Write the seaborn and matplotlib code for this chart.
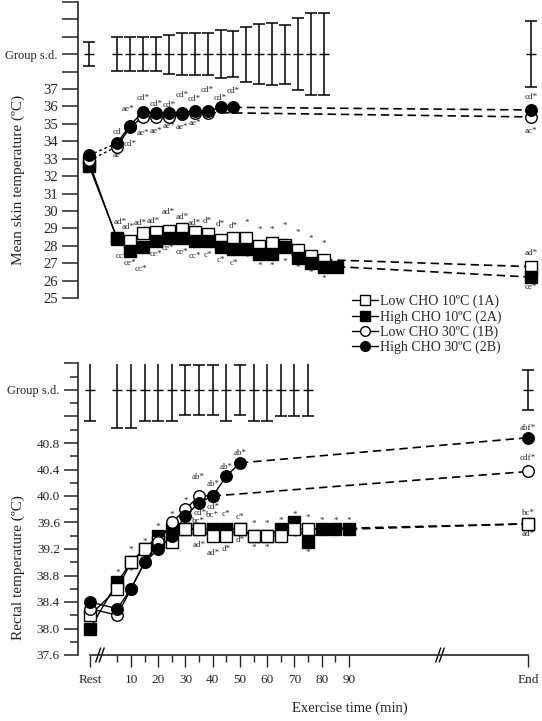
import pandas as pd
import matplotlib
matplotlib.use("Agg")
import matplotlib.pyplot as plt
import matplotlib.transforms as mtransforms
from matplotlib.lines import Line2D
import seaborn as sns

# ---- datos ----
exercise_time = [5, 10, 15, 20, 25, 30, 35, 40, 45, 50, 55, 60, 65, 70, 75, 80, 85, 90]
groups = ["1A", "2A", "1B", "2B"]
group_labels = ["Low CHO 10ºC (1A)", "High CHO 10ºC (2A)",
                "Low CHO 30ºC (1B)", "High CHO 30ºC (2B)"]

# piel (ºC), desde 5 min
skin_1a = [28.4, 28.3, 28.75, 28.8, 28.85, 28.95, 28.8, 28.7, 28.35, 28.45, 28.45,
           28.0, 28.15, 28.05, 27.75, 27.4, 27.2]
skin_2a = [28.45, 27.7, 27.95, 28.3, 28.45, 28.45, 28.25, 28.25, 27.95, 27.8, 27.8,
           27.5, 27.5, 27.95, 27.3, 27.0, 26.8, 26.8]
skin_1b = [33.7, 34.8, 35.4, 35.4, 35.4, 35.55, 35.6, 35.65]
skin_2b = [33.9, 34.9, 35.7, 35.6, 35.65, 35.65, 35.75, 35.75, 35.95, 35.95]
skin_rest = [32.8, 32.6, 32.9, 33.2]
skin_end = [26.8, 26.2, 35.4, 35.8]
skin_sd = [0.98, 0.98, 0.98, 0.98, 1.12, 1.2, 1.2, 1.2, 1.38, 1.32, 1.58, 1.72,
           1.78, 1.69, 2.07, 2.35, 2.35]
skin_sd_rest = 0.69
skin_sd_end = 1.9

# rectal (ºC), desde 5 min
rectal_1a = [38.6, 39.0, 39.2, 39.3, 39.3, 39.5, 39.5, 39.4, 39.4, 39.5, 39.4, 39.4,
             39.4, 39.5, 39.5]
rectal_2a = [38.7, 39.0, 39.2, 39.4, 39.5, 39.5, 39.5, 39.5, 39.5, 39.5, 39.4, 39.4,
             39.5, 39.6, 39.3, 39.5, 39.5, 39.5]
rectal_1b = [38.2, 38.6, 39.0, 39.3, 39.6, 39.8, 40.0, 40.0]
rectal_2b = [38.3, 38.6, 39.0, 39.2, 39.4, 39.7, 39.9, 40.0, 40.3, 40.5]
rectal_rest = [38.2, 38.0, 38.3, 38.4]
rectal_end = [39.58, 39.58, 40.37, 40.88]
rectal_sd = [0.57, 0.57, 0.47, 0.47, 0.47, 0.37, 0.37, 0.37, 0.47, 0.37, 0.47, 0.47,
             0.4, 0.4, 0.4]
rectal_sd_rest = 0.47
rectal_sd_end = 0.3

# anotaciones: (grupo, tiempo, texto, dx px, dy px)
skin_notes = [
    ("2B", 5, "cd", 0, 11), ("1B", 5, "ae", 0, -8),
    ("2B", 10, "ae*", -2, 17), ("1B", 10, "cd*", 0, -17),
    ("2B", 15, "cd*", 0, 14), ("2B", 20, "cd*", 0, 9), ("2B", 25, "cd*", 0, 8),
    ("2B", 30, "cd*", 0, 18), ("2B", 35, "cd*", 0, 12), ("2B", 40, "cd*", 0, 21),
    ("2B", 45, "cd*", 0, 9), ("2B", 50, "cd*", 0, 16),
    ("1B", 15, "ae*", 0, -16), ("1B", 20, "ae*", 0, -14), ("1B", 25, "ae*", 0, -9),
    ("1B", 30, "ae*", 0, -13), ("1B", 35, "ae*", 0, -10),
    ("2B", "End", "cd*", 0, 13), ("1B", "End", "ac*", 0, -14),
    ("1A", 5, "ad*", 3, 17), ("1A", 10, "ad*", -2, 14), ("1A", 15, "ad*", -3, 10),
    ("1A", 20, "ad*", -3, 11), ("1A", 25, "ad*", -1, 19), ("1A", 30, "ad*", 0, 12),
    ("1A", 35, "ad*", 0, 9), ("1A", 40, "d*", 0, 13), ("1A", 45, "d*", 0, 16),
    ("1A", 50, "d*", 0, 12), ("1A", 55, "*", 0, 15), ("1A", 60, "*", 0, 16),
    ("1A", 65, "*", 0, 13), ("1A", 70, "*", 0, 19), ("1A", 75, "*", 0, 17),
    ("1A", 80, "*", 0, 17), ("1A", 85, "*", 0, 16),
    ("2A", 5, "cc*", 5, -18), ("2A", 10, "ce*", 0, -12), ("2A", 15, "cc*", -2, -22),
    ("2A", 20, "ce*", 0, -13), ("2A", 25, "ce*", -1, -10), ("2A", 30, "ce*", 0, -14),
    ("2A", 35, "cc*", 0, -15), ("2A", 40, "c*", 0, -14), ("2A", 45, "c*", 0, -13),
    ("2A", 50, "c*", 0, -14), ("2A", 55, "*", 0, -9), ("2A", 60, "*", 0, -11),
    ("2A", 65, "*", 0, -11), ("2A", 70, "*", 0, -15), ("2A", 75, "*", 0, -10),
    ("2A", 80, "*", 0, -10), ("2A", 85, "*", 0, -12), ("2A", 90, "*", 0, -7),
    ("1A", "End", "ad*", 0, 14), ("2A", "End", "ce*", 0, -10),
]
rectal_notes = [
    ("1B", 35, "ab*", -1, 19), ("2B", 40, "ab*", 0, 12), ("2B", 45, "ab*", 0, 9),
    ("2B", 50, "ab*", 0, 10), ("2B", 35, "cd*", 1, -10), ("2B", 40, "cd*", 0, -11),
    ("2A", 35, "bc*", -1, 8), ("2A", 40, "bc*", 0, 14), ("2A", 45, "c*", 0, 15),
    ("2A", 50, "c*", 0, 12),
    ("1A", 35, "ad*", 0, -16), ("1A", 40, "ad*", 0, -17), ("1A", 45, "d*", 0, -13),
    ("1A", 50, "d*", 0, -11),
    ("2A", 55, "*", 0, 12), ("2A", 60, "*", 0, 12), ("2A", 65, "*", 0, 8),
    ("2A", 70, "*", 0, 8), ("1A", 75, "*", 0, 11), ("2A", 80, "*", 0, 8),
    ("2A", 85, "*", 0, 8), ("2A", 90, "*", 0, 8),
    ("1A", 55, "*", 0, -12), ("1A", 60, "*", 0, -12), ("1A", 65, "*", 0, -8),
    ("1A", 70, "*", 0, -9), ("2A", 75, "*", 0, -11),
    ("2A", 5, "*", 0, 9), ("1A", 5, "*", 0, -7), ("1A", 10, "*", 0, 12),
    ("1A", 10, "*", 0, -10), ("2B", 10, "*", 1, -8), ("1A", 15, "*", 0, 7),
    ("2B", 15, "*", 0, -8), ("2A", 20, "*", 0, 9), ("2B", 20, "*", 0, -8),
    ("2B", 25, "*", -6, -14), ("2B", 25, "*", 1, -14), ("1B", 25, "*", 0, 8),
    ("1B", 30, "*", 0, 8), ("1A", 30, "*", 0, -7),
    ("2B", "End", "abf*", 0, 10), ("1B", "End", "cdf*", 0, 13),
    ("1A", "End", "bc*", 0, 11), ("1A", "End", "ad*", 0, -10),
]

marker_styles = {"1A": ("s", "white"), "2A": ("s", "black"),
                 "1B": ("o", "white"), "2B": ("o", "black")}
MS = 8.3

# posiciones de Rest / End en cada panel (eje roto)
TOP_REST, TOP_END = -5.8, 165.0
BOT_REST, BOT_END = -5.05, 155.7


def draw_panel(ax, values, rest_vals, end_vals, rest_x, end_x, zorders, rest_ls):
    for i, g in enumerate(groups):
        vals = values[g]
        t = exercise_time[:len(vals)]
        df = pd.DataFrame({"time": t, "value": vals})
        marker, face = marker_styles[g]
        z = zorders[g]
        sns.lineplot(data=df, x="time", y="value", ax=ax, color="black", linewidth=1.0,
                     marker=marker, markersize=MS, markerfacecolor=face,
                     markeredgecolor="black", markeredgewidth=1.0, zorder=z,
                     legend=False)
        ax.plot([rest_x, t[0]], [rest_vals[i], vals[0]], color="black", lw=1.0,
                ls=rest_ls[g], zorder=z - 0.5)
        ax.plot([t[-1], end_x], [vals[-1], end_vals[i]], color="black", lw=1.2,
                ls=(0, (5, 3)), zorder=z - 0.5)
        ax.plot([rest_x, end_x], [rest_vals[i], end_vals[i]], ls="none", marker=marker,
                ms=MS, mfc=face, mec="black", mew=1.0, zorder=z)


def draw_sd(ax, center, sd, sd_rest, sd_end, rest_x, end_x):
    xs = [rest_x] + exercise_time[:len(sd)] + [end_x]
    errs = [sd_rest] + sd + [sd_end]
    ys = [center] * len(xs)
    ax.errorbar(xs, ys, yerr=errs, fmt="none", ecolor="black", elinewidth=1.1,
                capsize=4, capthick=1.1)
    ax.plot(xs, ys, ls="none", marker="_", ms=7, mew=1.0, color="black")


def draw_notes(ax, notes, values, rest_vals, end_vals, end_x):
    for g, t, text, dx, dy in notes:
        i = groups.index(g)
        if t == "End":
            x, y = end_x, end_vals[i]
        else:
            x, y = t, values[g][exercise_time.index(t)]
        ax.annotate(text, (x, y), xytext=(dx * 0.72, dy * 0.72), textcoords="offset points",
                    ha="center", va="center", fontsize=6.5)


def draw_break(ax, xc):
    trans = mtransforms.blended_transform_factory(ax.transData, ax.transAxes)
    for off in (-0.65, 0.65):
        ax.plot([xc + off - 0.9, xc + off + 0.9], [-0.024, 0.024], transform=trans,
                color="black", lw=1.0, clip_on=False)


def shrink_group_label(ax):
    for lab in ax.get_yticklabels():
        if lab.get_text() == "Group s.d.":
            lab.set_fontsize(9)


sns.set_style("ticks")
plt.rcParams["font.family"] = ["Liberation Serif", "DejaVu Serif"]

fig = plt.figure(figsize=(5.42, 7.21), dpi=100)
ax_top = fig.add_axes([78 / 542, 1 - 298 / 721, 462 / 542, 296 / 721])
ax_bot = fig.add_axes([78 / 542, 1 - 655 / 721, 462 / 542, 291.5 / 721])

# ---- panel superior: temperatura de piel ----
skin = {"1A": skin_1a, "2A": skin_2a, "1B": skin_1b, "2B": skin_2b}
draw_sd(ax_top, 39.0, skin_sd, skin_sd_rest, skin_sd_end, TOP_REST, TOP_END)
draw_panel(ax_top, skin, skin_rest, skin_end, TOP_REST, TOP_END,
           {"1A": 3, "2A": 4, "1B": 5, "2B": 6},
           {"1A": "-", "2A": "-", "1B": (0, (2, 2)), "2B": (0, (2, 2))})
draw_notes(ax_top, skin_notes, skin, skin_rest, skin_end, TOP_END)

ax_top.set_xlim(-10.07, 168.45)
ax_top.set_ylim(25, 42)
top_ticks = list(range(25, 43))
top_labels = [str(v) if v <= 37 else ("Group s.d." if v == 39 else "") for v in top_ticks]
ax_top.set_yticks(top_ticks, top_labels)
ax_top.set_xticks([])
ax_top.set_xlabel("")
ax_top.set_ylabel("Mean skin temperature (ºC)", fontsize=11)
ax_top.yaxis.set_label_coords(-0.115, 0.40)
for s in ("top", "right", "bottom"):
    ax_top.spines[s].set_visible(False)
ax_top.spines["left"].set_linewidth(1.2)
ax_top.tick_params(axis="y", length=11.5, width=1.1, labelsize=10.5, pad=3)
shrink_group_label(ax_top)

# ---- panel inferior: temperatura rectal ----
rectal = {"1A": rectal_1a, "2A": rectal_2a, "1B": rectal_1b, "2B": rectal_2b}
draw_sd(ax_bot, 41.6, rectal_sd, rectal_sd_rest, rectal_sd_end, BOT_REST, BOT_END)
draw_panel(ax_bot, rectal, rectal_rest, rectal_end, BOT_REST, BOT_END,
           {"1A": 4, "2A": 3, "1B": 5, "2B": 6},
           {"1A": "-", "2A": "-", "1B": "-", "2B": "-"})
draw_notes(ax_bot, rectal_notes, rectal, rectal_rest, rectal_end, BOT_END)

ax_bot.set_xlim(-9.45, 160.1)
ax_bot.set_ylim(37.6, 42.0)
bot_major = [37.6, 38.0, 38.4, 38.8, 39.2, 39.6, 40.0, 40.4, 40.8, 41.2, 41.6, 42.0]
bot_labels = [f"{v:.1f}" if v <= 40.8 else ("Group s.d." if v == 41.6 else "")
              for v in bot_major]
ax_bot.set_yticks(bot_major, bot_labels)
ax_bot.set_yticks([37.8, 38.2, 38.6, 39.0, 39.4, 39.8, 40.2, 40.6, 41.0, 41.4, 41.8],
                  minor=True)
x_major = [BOT_REST, 10, 20, 30, 40, 50, 60, 70, 80, 90, BOT_END]
x_labels = ["Rest", "10", "20", "30", "40", "50", "60", "70", "80", "90", "End"]
ax_bot.set_xticks(x_major, x_labels)
ax_bot.set_xticks([5, 15, 25, 35, 45, 55, 65, 75, 85], minor=True)
ax_bot.set_xlabel("")
ax_bot.set_ylabel("Rectal temperature (ºC)", fontsize=11)
ax_bot.yaxis.set_label_coords(-0.115, 0.30)
for s in ("top", "right"):
    ax_bot.spines[s].set_visible(False)
ax_bot.spines["left"].set_linewidth(1.2)
ax_bot.spines["bottom"].set_linewidth(1.2)
ax_bot.spines["bottom"].set_bounds(BOT_REST, BOT_END)
ax_bot.tick_params(axis="y", which="major", length=10, width=1.1, labelsize=9.5, pad=3)
ax_bot.tick_params(axis="y", which="minor", length=6, width=1.1)
ax_bot.tick_params(axis="x", which="major", length=8.5, width=1.0, labelsize=9.5, pad=5)
ax_bot.tick_params(axis="x", which="minor", length=5, width=1.0)
shrink_group_label(ax_bot)
draw_break(ax_bot, -1.4)
draw_break(ax_bot, 123.4)

fig.text(350 / 542, 1 - 708 / 721, "Exercise time (min)", ha="center", va="center",
         fontsize=10.5)

# leyenda
handles = [Line2D([], [], color="black", lw=1.0, marker=marker_styles[g][0], ms=7,
                  mfc=marker_styles[g][1], mec="black", mew=1.0) for g in groups]
fig.legend(handles, group_labels, loc="upper left",
           bbox_to_anchor=(352 / 542, 1 - 295 / 721), frameon=False, fontsize=10,
           handlelength=1.9, handletextpad=0.15, labelspacing=0.12, borderpad=0,
           borderaxespad=0)

fig.savefig("out.png", dpi=100)
